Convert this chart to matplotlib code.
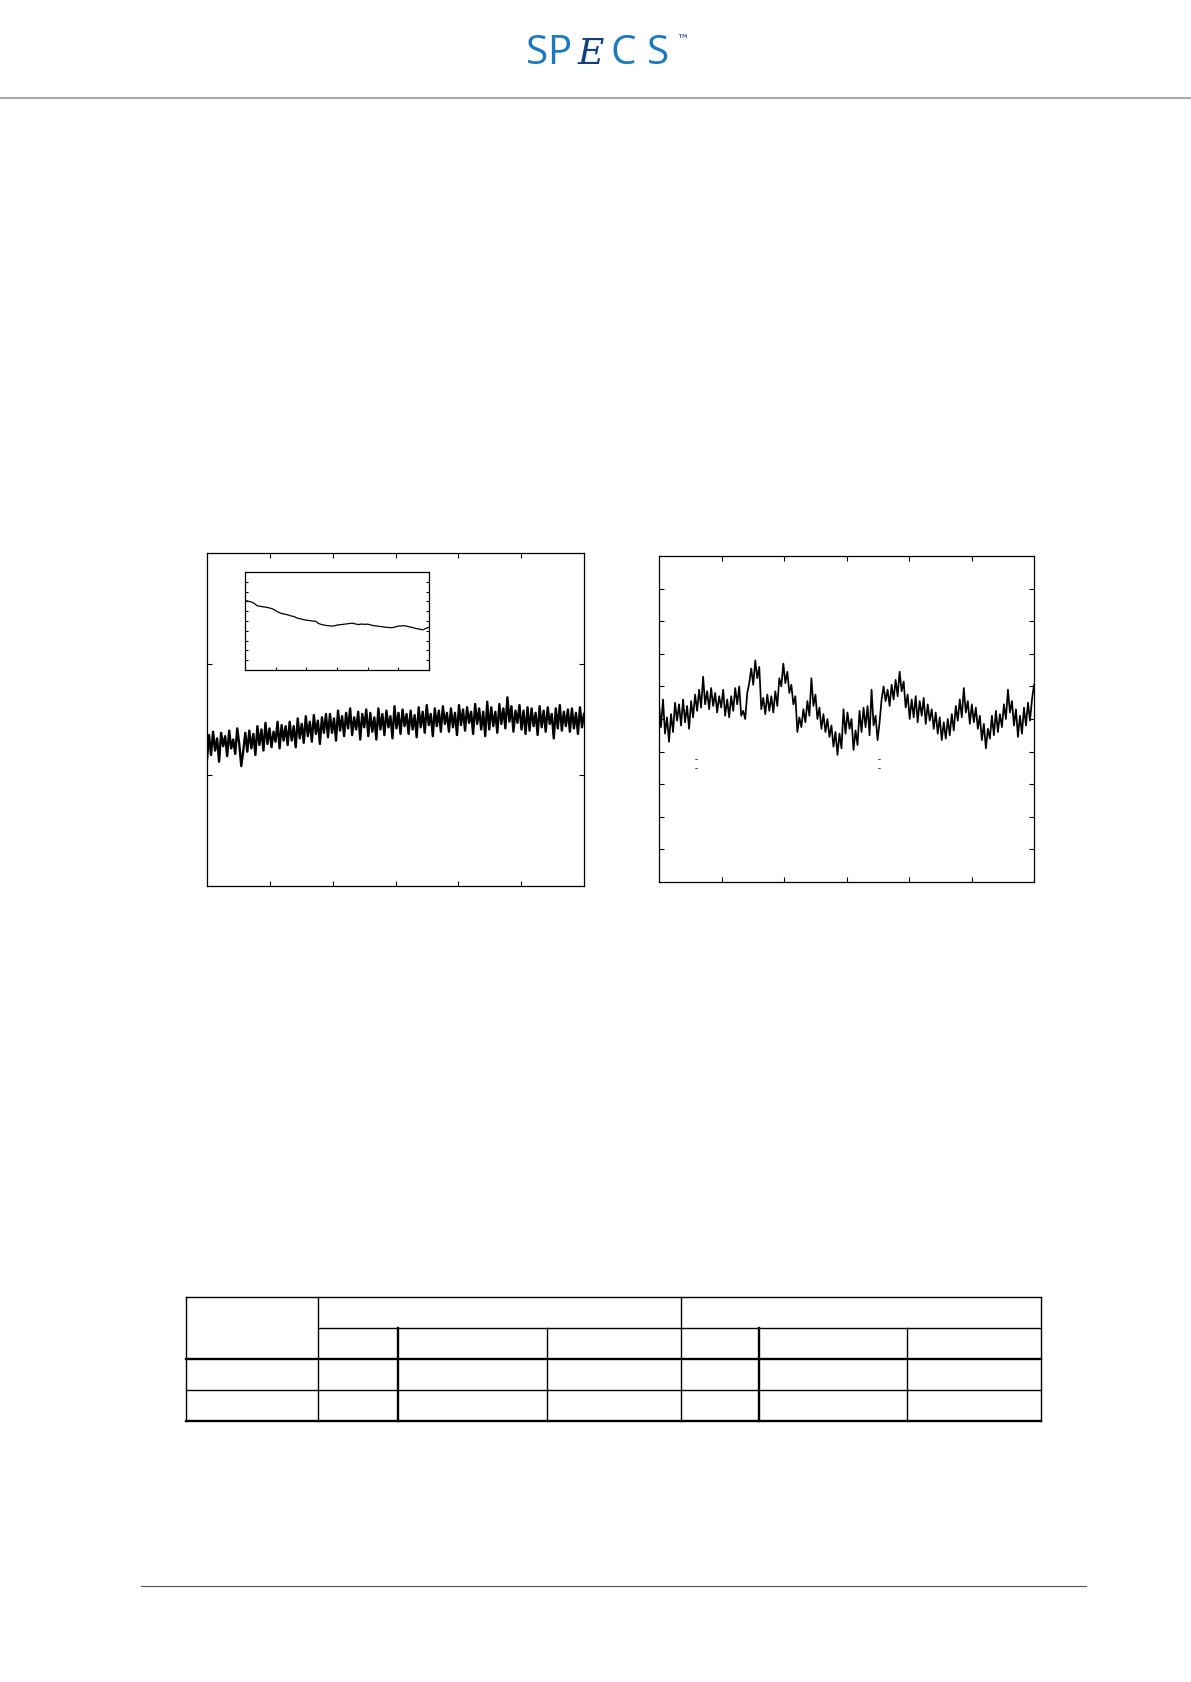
import numpy as np
import matplotlib
matplotlib.use("Agg")
import matplotlib.pyplot as plt

W, H = 1191, 1683

# left panel: noisy trace (0..3 scale), x spans 0..6
left_trace = [
    1.14, 1.36, 1.18, 1.39, 1.22, 1.33, 1.12, 1.38, 1.26, 1.35, 1.17, 1.40, 1.24, 1.32, 1.19, 1.42, 1.28, 1.08, 1.22, 1.38,
    1.21, 1.40, 1.24, 1.37, 1.18, 1.44, 1.27, 1.41, 1.22, 1.47, 1.28, 1.42, 1.25, 1.39, 1.30, 1.48, 1.24, 1.45, 1.31, 1.44,
    1.27, 1.48, 1.31, 1.44, 1.25, 1.51, 1.33, 1.46, 1.29, 1.53, 1.35, 1.48, 1.30, 1.54, 1.37, 1.49, 1.28, 1.52, 1.38, 1.55,
    1.34, 1.55, 1.38, 1.51, 1.31, 1.58, 1.40, 1.53, 1.35, 1.56, 1.42, 1.60, 1.36, 1.52, 1.41, 1.57, 1.32, 1.55, 1.43, 1.59,
    1.35, 1.56, 1.39, 1.52, 1.32, 1.60, 1.41, 1.55, 1.36, 1.58, 1.43, 1.53, 1.33, 1.62, 1.42, 1.56, 1.37, 1.59, 1.44, 1.55,
    1.37, 1.58, 1.41, 1.54, 1.34, 1.61, 1.43, 1.57, 1.38, 1.63, 1.45, 1.55, 1.35, 1.60, 1.44, 1.58, 1.39, 1.62, 1.46, 1.56,
    1.39, 1.60, 1.43, 1.56, 1.36, 1.63, 1.45, 1.59, 1.40, 1.61, 1.47, 1.57, 1.37, 1.64, 1.46, 1.60, 1.41, 1.57, 1.35, 1.66,
    1.41, 1.61, 1.44, 1.57, 1.38, 1.64, 1.46, 1.60, 1.42, 1.70, 1.48, 1.62, 1.39, 1.58, 1.47, 1.63, 1.41, 1.58, 1.37, 1.61,
    1.40, 1.60, 1.44, 1.56, 1.36, 1.62, 1.43, 1.58, 1.39, 1.61, 1.46, 1.55, 1.33, 1.60, 1.42, 1.63, 1.40, 1.57, 1.44, 1.59,
    1.39, 1.60, 1.42, 1.56, 1.37, 1.61, 1.43, 1.55,
]

# inset: smooth decaying trace (0..10 scale), x = 0, 0.1, ..., 6.0
inset_trace = [
    7.10, 7.02, 6.95, 6.80, 6.55, 6.50, 6.44, 6.40, 6.33, 6.24,
    6.05, 5.88, 5.76, 5.70, 5.62, 5.52, 5.45, 5.30, 5.22, 5.15,
    5.08, 5.05, 5.00, 4.97, 4.75, 4.63, 4.58, 4.52, 4.49, 4.50,
    4.58, 4.62, 4.66, 4.70, 4.74, 4.78, 4.70, 4.64, 4.69, 4.66,
    4.68, 4.60, 4.52, 4.48, 4.45, 4.40, 4.36, 4.33, 4.32, 4.40,
    4.48, 4.50, 4.52, 4.45, 4.38, 4.30, 4.22, 4.16, 4.10, 4.25,
    4.36,
]

# right panel: noisy trace (0..10 scale), x spans 0..6
right_trace = [
    5.45, 4.75, 5.60, 4.55, 5.05, 4.30, 5.15, 4.60, 5.50, 4.95, 5.45, 4.80, 5.60, 4.90, 5.40, 4.70, 5.55, 5.05, 5.75, 5.25,
    5.90, 5.35, 6.30, 5.45, 5.85, 5.30, 5.95, 5.40, 5.80, 5.20, 5.70, 5.35, 5.90, 5.10, 5.60, 5.05, 5.70, 5.25, 5.95, 5.45,
    6.00, 5.10, 5.25, 5.00, 5.80, 6.10, 6.55, 6.05, 6.80, 6.25, 6.60, 5.30, 5.65, 5.15, 5.75, 5.25, 5.70, 5.20, 5.85, 5.40,
    6.25, 6.00, 6.70, 6.10, 6.45, 5.80, 6.05, 5.45, 5.70, 4.60, 5.05, 4.75, 5.30, 4.90, 5.55, 5.10, 6.25, 5.40, 5.75, 5.00,
    5.35, 4.70, 5.15, 4.60, 5.00, 4.45, 4.80, 4.15, 4.60, 3.90, 4.55, 4.10, 5.30, 4.55, 5.20, 4.70, 5.00, 4.05, 4.65, 4.20,
    5.25, 4.60, 5.35, 4.75, 5.40, 4.50, 5.90, 4.80, 5.10, 4.35, 4.90, 5.60, 6.00, 5.55, 5.90, 5.40, 6.05, 5.60, 6.20, 5.70,
    6.45, 5.85, 6.15, 5.35, 5.75, 5.00, 5.60, 5.05, 5.70, 4.90, 5.55, 5.10, 5.65, 4.85, 5.45, 4.95, 5.30, 4.70, 5.20, 4.55,
    5.05, 4.35, 4.90, 4.40, 5.00, 4.50, 5.15, 4.65, 5.40, 4.95, 5.60, 5.05, 5.95, 5.20, 5.55, 4.85, 5.45, 4.90, 5.35, 4.70,
    5.10, 4.35, 4.85, 4.10, 4.70, 4.40, 5.10, 4.50, 5.25, 4.60, 5.15, 4.75, 5.45, 5.00, 5.90, 5.20, 5.55, 4.80, 5.30, 4.45,
    5.10, 4.55, 5.35, 4.80, 5.50, 4.95, 5.60, 6.05,
]

# table grid (page pixels)
col_edges = [185.6, 317.6, 398.1, 547.2, 681.3, 758.6, 906.7, 1040.8]
row_edges = [1298.0, 1328.6, 1359.5, 1390.5, 1422.0]


def px_axes(fig, x0, y0, x1, y1):
    return fig.add_axes([x0 / W, 1 - y1 / H, (x1 - x0) / W, (y1 - y0) / H])


def style(ax, xlim, ylim, xticks, yticks, top=True, right=True):
    ax.set_xlim(*xlim)
    ax.set_ylim(*ylim)
    ax.set_xticks(xticks)
    ax.set_yticks(yticks)
    ax.tick_params(direction="in", length=3.5, width=0.8, top=top, right=right,
                   labelbottom=False, labelleft=False)
    for s in ax.spines.values():
        s.set_linewidth(0.9)


fig = plt.figure(figsize=(W / 100, H / 100), dpi=100)

# page overlay for logo, rules and table
page = fig.add_axes([0, 0, 1, 1])
page.set_xlim(0, W)
page.set_ylim(H, 0)
page.axis("off")

blue = "#1b79be"
dark = "#123f7e"
for ch, xc in zip("SP", [536.5, 559.5]):
    page.text(xc, 64, ch, fontsize=29, color=blue, ha="center", va="baseline",
              family="Open Sans")
page.text(590.5, 64, "E", fontsize=26, color=dark, ha="center", va="baseline",
          family="DejaVu Serif", style="italic")
for ch, xc in zip("CS", [623, 657.5]):
    page.text(xc, 64, ch, fontsize=29, color=blue, ha="center", va="baseline",
              family="Open Sans")
page.text(682, 44, "\u2122", fontsize=9, color=dark, ha="center", va="baseline",
          family="DejaVu Sans")

page.plot([0, W], [99, 99], color="#a8a8a8", lw=1.5)
page.plot([140.6, 1086], [1586.5, 1586.5], color="#555555", lw=0.8)

# table
thin, thick = 1.0, 1.7
x0, x1 = col_edges[0], col_edges[-1]
page.plot([x0, x1], [row_edges[0]] * 2, color="k", lw=thin)
page.plot([col_edges[1], x1], [row_edges[1]] * 2, color="k", lw=thin)
page.plot([x0, x1], [row_edges[2]] * 2, color="k", lw=thick)
page.plot([x0, x1], [row_edges[3]] * 2, color="k", lw=thin)
page.plot([x0, x1], [row_edges[4]] * 2, color="k", lw=thick)
for j, xc in enumerate(col_edges):
    top = row_edges[0] if j in (0, 1, 4, 7) else row_edges[1]
    lw = thick if j in (2, 5) else thin
    page.plot([xc, xc], [top, row_edges[4]], color="k", lw=lw)

# left panel
ax1 = px_axes(fig, 207, 554, 584, 887)
xl = np.linspace(0, 6, len(left_trace))
ax1.plot(xl, left_trace, color="k", lw=1.7)
style(ax1, (0, 6), (0, 3), [1, 2, 3, 4, 5], [1, 2])

ins = px_axes(fig, 245, 573, 429, 671)
xi = np.linspace(0, 6, len(inset_trace))
ins.plot(xi, inset_trace, color="k", lw=0.9)
style(ins, (0, 6), (0, 10), [1, 2, 3, 4, 5], range(1, 10), top=False)
ins.tick_params(length=2.5)

# right panel
ax2 = px_axes(fig, 659, 557, 1034, 883)
xr = np.linspace(0, 6, len(right_trace))
ax2.plot(xr, right_trace, color="k", lw=1.25)
style(ax2, (0, 6), (0, 10), [1, 2, 3, 4, 5], range(1, 10))
for xm in (0.60, 3.52):
    for ym in (3.79, 3.50):
        ax2.text(xm, ym, "-", fontsize=6, ha="center", va="center")

fig.savefig("out.png", dpi=100)
